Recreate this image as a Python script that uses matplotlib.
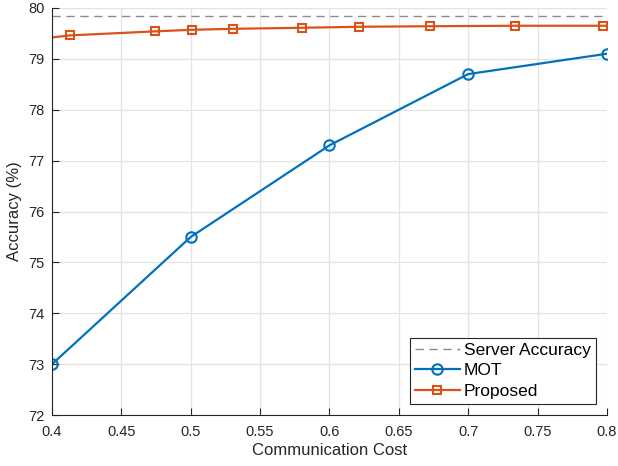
import numpy as np
import matplotlib.pyplot as plt

plt.rcParams['font.family'] = ['Liberation Sans', 'DejaVu Sans']

cost_mot = [0.4, 0.5, 0.6, 0.7, 0.8]
acc_mot = [73.0, 75.5, 77.3, 78.7, 79.1]

cost_prop = [0.4, 0.413, 0.4744, 0.5007, 0.5307, 0.5806, 0.6215, 0.6724, 0.734, 0.797, 0.8]
acc_prop = [79.42, 79.46, 79.54, 79.57, 79.59, 79.61, 79.63, 79.64, 79.65, 79.65, 79.65]

server_acc = 79.84

blue = '#0072BD'
orange = '#D95319'

fig = plt.figure(figsize=(6.18, 4.66), dpi=100)
ax = fig.add_axes([0.084, 0.109, 0.898, 0.874])

ax.axhline(server_acc, color='#8c8c8c', lw=1.0, ls=(0, (6, 4)), label='Server Accuracy')
ax.plot(cost_mot, acc_mot, color=blue, lw=1.6, marker='o', ms=7.5, mfc='none', mew=1.5, label='MOT')
ax.plot(cost_prop, acc_prop, color=orange, lw=1.6, marker='s', ms=5.5, mfc='none', mew=1.5,
        markevery=list(range(1, 10)), label='Proposed')

ax.set_xlim(0.4, 0.8)
ax.set_ylim(72, 80)
ax.set_xticks(np.arange(0.4, 0.801, 0.05))
ax.set_xticklabels(['0.4', '0.45', '0.5', '0.55', '0.6', '0.65', '0.7', '0.75', '0.8'])
ax.set_yticks(range(72, 81))
ax.tick_params(direction='in', labelsize=10.5, colors='#262626', length=5, width=0.8)
ax.tick_params(axis='x', pad=7)
ax.tick_params(axis='y', pad=5)
ax.grid(True, color='#e3e3e3', lw=0.9)
ax.set_axisbelow(True)
for s in ['top', 'right']:
    ax.spines[s].set_visible(False)
for s in ['left', 'bottom']:
    ax.spines[s].set_color('#262626')
    ax.spines[s].set_linewidth(0.8)

ax.set_xlabel('Communication Cost', fontsize=12, color='#262626', labelpad=3)
ax.set_ylabel('Accuracy (%)', fontsize=12, color='#262626', labelpad=5)

leg = ax.legend(loc='lower right', fontsize=12.5, fancybox=False, framealpha=1,
                edgecolor='#262626', handlelength=2.6, handletextpad=0.2,
                borderpad=0.3, labelspacing=0.3, borderaxespad=0.65)
leg.get_frame().set_linewidth(0.8)

fig.savefig('out.png', dpi=100)
